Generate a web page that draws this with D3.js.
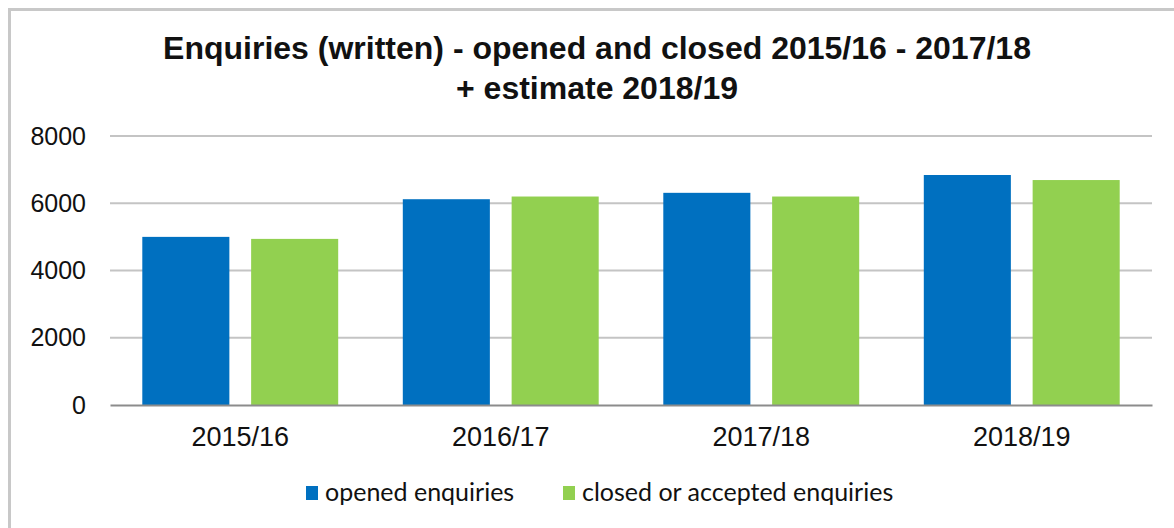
<!DOCTYPE html>
<html>
<head>
<meta charset="utf-8">
<script src="https://cdn.jsdelivr.net/npm/d3@7"></script>
<style>
  body { margin: 0; background: #fff; }
  svg { display: block; }
</style>
</head>
<body>
<div id="chart"></div>
<script>
// Data
var years = ["2015/16", "2016/17", "2017/18", "2018/19"];
var seriesNames = ["opened enquiries", "closed or accepted enquiries"];
var openedValues = [5000, 6120, 6310, 6840];
var closedValues = [4940, 6200, 6200, 6690];
var yTicks = [0, 2000, 4000, 6000, 8000];
var colors = ["#0070c0", "#92d050"];

var svgWidth = 1174;
var svgHeight = 528;

var margin = { top: 136, right: 22, bottom: 123, left: 110 };
var chartWidth = svgWidth - margin.left - margin.right;
var chartHeight = svgHeight - margin.top - margin.bottom;

var svg = d3.select("#chart")
  .append("svg")
  .attr("width", svgWidth)
  .attr("height", svgHeight);

// outer frame (top and left edges only are visible)
svg.append("path")
  .attr("d", "M9.5," + svgHeight + "V9.5H" + svgWidth)
  .attr("fill", "none")
  .attr("stroke", "#c8c8c8")
  .attr("stroke-width", 3);

// Title
var title = svg.append("text")
  .attr("x", 597)
  .attr("text-anchor", "middle")
  .attr("font-family", "Liberation Sans, Arial, sans-serif")
  .attr("font-weight", 700)
  .attr("font-size", "32px")
  .attr("fill", "#111");
title.append("tspan").attr("x", 597).attr("y", 59)
  .text("Enquiries (written) - opened and closed 2015/16 - 2017/18");
title.append("tspan").attr("x", 597).attr("y", 99)
  .text("+ estimate 2018/19");

var chartGroup = svg.append("g")
  .attr("transform", `translate(${margin.left}, ${margin.top})`);

// Scales
var x0 = d3.scaleBand()
  .domain(years)
  .range([0, chartWidth])
  .paddingInner(0.248)
  .paddingOuter(0.124);

var x1 = d3.scaleBand()
  .domain(seriesNames)
  .range([0, x0.bandwidth()])
  .paddingInner(0.2);

var yScale = d3.scaleLinear()
  .domain([0, 8000])
  .range([chartHeight, 0]);

// gridlines
chartGroup.append("g")
  .selectAll("line")
  .data(yTicks.filter(d => d > 0))
  .enter()
  .append("line")
  .attr("x1", 0)
  .attr("x2", chartWidth)
  .attr("y1", d => yScale(d))
  .attr("y2", d => yScale(d))
  .attr("stroke", "#c4c4c4")
  .attr("stroke-width", 2);

// y axis labels
var leftAxis = d3.axisLeft(yScale)
  .tickValues(yTicks)
  .tickFormat(d3.format("d"))
  .tickSize(0)
  .tickPadding(24);

var yAxisG = chartGroup.append("g").call(leftAxis);
yAxisG.select(".domain").remove();
yAxisG.selectAll("text")
  .attr("font-family", "Liberation Sans, Arial, sans-serif")
  .attr("font-size", "25px")
  .attr("fill", "#111");

// bars
var rows = years.map(function(y, i) {
  return { year: y, values: [openedValues[i], closedValues[i]] };
});

var groups = chartGroup.selectAll(".year")
  .data(rows)
  .enter()
  .append("g")
  .attr("class", "year")
  .attr("transform", d => `translate(${x0(d.year)}, 0)`);

groups.selectAll("rect")
  .data(d => d.values.map((v, j) => ({ name: seriesNames[j], value: v, idx: j })))
  .enter()
  .append("rect")
  .attr("x", d => x1(d.name))
  .attr("width", x1.bandwidth())
  .attr("y", d => yScale(d.value))
  .attr("height", d => chartHeight - yScale(d.value))
  .attr("fill", d => colors[d.idx]);

// x axis
var bottomAxis = d3.axisBottom(x0)
  .tickSize(0)
  .tickPadding(22);

var xAxisG = chartGroup.append("g")
  .attr("transform", `translate(0, ${chartHeight})`)
  .call(bottomAxis);
xAxisG.select(".domain")
  .attr("stroke", "#8c8c8c")
  .attr("stroke-width", 2);
xAxisG.selectAll("text")
  .attr("font-family", "Liberation Sans, Arial, sans-serif")
  .attr("font-size", "27px")
  .attr("fill", "#111");

// legend
var legendX = [306, 563];
var legend = svg.append("g");
seriesNames.forEach(function(name, i) {
  legend.append("rect")
    .attr("x", legendX[i])
    .attr("y", 486)
    .attr("width", 12)
    .attr("height", 14)
    .attr("fill", colors[i]);
  legend.append("text")
    .attr("x", legendX[i] + 19)
    .attr("y", 501)
    .attr("font-family", "Lato, sans-serif")
    .attr("font-size", "25px")
    .attr("fill", "#111")
    .text(name);
});
</script>
</body>
</html>
